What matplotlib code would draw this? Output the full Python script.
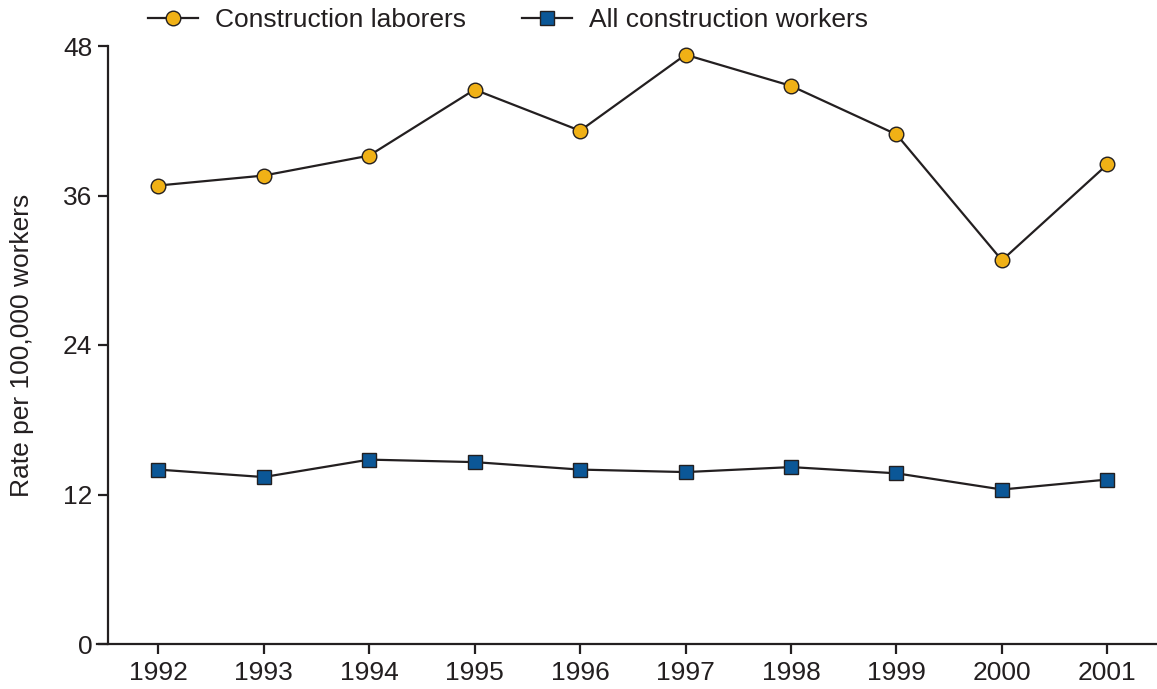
import matplotlib
matplotlib.use("Agg")
import matplotlib.pyplot as plt

plt.rcParams['font.family'] = ['Liberation Sans', 'DejaVu Sans']

years = [1992, 1993, 1994, 1995, 1996, 1997, 1998, 1999, 2000, 2001]
laborers = [36.8, 37.6, 39.2, 44.5, 41.2, 47.3, 44.8, 40.9, 30.8, 38.5]
all_workers = [14.0, 13.4, 14.8, 14.6, 14.0, 13.8, 14.2, 13.7, 12.4, 13.2]
y_ticks = [0, 12, 24, 36, 48]
series_labels = ["Construction laborers", "All construction workers"]

fig = plt.figure(figsize=(11.57, 6.89), dpi=100)
ax = fig.add_axes([97/1157, 1 - 644/689, 1 - 97/1157, (644 - 46)/689])

ink = "#231f20"
ax.plot(years, laborers, color=ink, lw=1.6, marker='o', ms=10.5,
        mfc="#f0b116", mec=ink, mew=1.0, label=series_labels[0])
ax.plot(years, all_workers, color=ink, lw=1.6, marker='s', ms=9.5,
        mfc="#0b5797", mec=ink, mew=1.0, label=series_labels[1])

ax.set_xlim(1991.42, 2001.47)
ax.set_ylim(0, 48)
ax.spines['left'].set_position(('data', 1991.52))
ax.spines['left'].set_bounds(0, 48)
for s in ['top', 'right']:
    ax.spines[s].set_visible(False)
for s in ['left', 'bottom']:
    ax.spines[s].set_linewidth(1.6)
    ax.spines[s].set_color(ink)

ax.set_xticks(years)
ax.set_xticklabels([str(y) for y in years])
ax.set_yticks(y_ticks)
ax.tick_params(axis='both', direction='out', length=7, width=1.6, color=ink,
               labelsize=19, labelcolor=ink)
ax.tick_params(axis='x', pad=5)
ax.tick_params(axis='y', pad=4)

fig.text(22/1157, 1 - 345/689, "Rate per 100,000 workers", rotation=90,
         ha='center', va='center', fontsize=19, color=ink)

leg = fig.legend(loc='center', bbox_to_anchor=(508/1157, 1 - 20/689), ncol=2,
                 frameon=False, fontsize=19, handlelength=1.9, columnspacing=2.1,
                 handletextpad=0.65, labelcolor=ink)

fig.savefig("out.png", dpi=100)
